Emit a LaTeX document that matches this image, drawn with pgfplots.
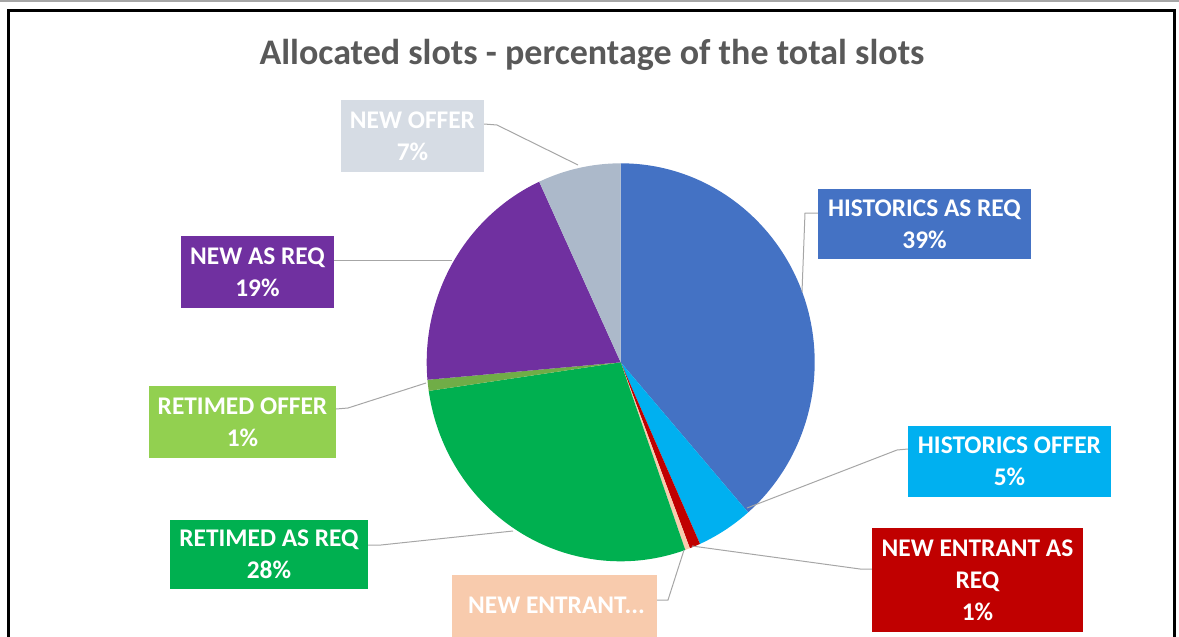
\documentclass[border=0pt]{standalone}
\usepackage{pgfplots}
\pgfplotsset{compat=1.18}
\usepackage{fontspec}
\setmainfont{Carlito}
\definecolor{cHR}{HTML}{4472C4}
\definecolor{cHO}{HTML}{00B0F0}
\definecolor{cNE}{HTML}{C00000}
\definecolor{cNO}{HTML}{F8CBAD}
\definecolor{cRR}{HTML}{00B050}
\definecolor{cRO}{HTML}{70AD47}
\definecolor{cROb}{HTML}{92D050}
\definecolor{cNR}{HTML}{7030A0}
\definecolor{cNF}{HTML}{ACB9CA}
\definecolor{cNFb}{HTML}{D6DCE4}
\definecolor{tgray}{HTML}{595959}
\definecolor{lgray}{HTML}{A6A6A6}
% slice: #1 cumulative start (%), #2 value (%), #3 colour
\newcommand\slice[3]{%
  \fill[#3] (axis cs:620.7,362.3) -- ++({90-3.6*(#1)}:97pt and 99.5pt)
    arc[start angle={90-3.6*(#1)}, end angle={90-3.6*(#1+#2)}, x radius=97pt, y radius=99.5pt] -- cycle;}
\newcommand\lab[6]{% x1,y1,x2,y2,colour,text
  \fill[#5] (axis cs:#1,#2) rectangle (axis cs:#3,#4);
  \node[text=white, font=\fontsize{12.7}{16}\selectfont\bfseries, align=center]
    at (axis cs:{(#1+#3)/2},{(#2+#4)/2}) {#6};}
\begin{document}
\begin{tikzpicture}
\useasboundingbox (0,0) rectangle (589.5pt,318.5pt);
\begin{axis}[scale only axis, width=589.5pt, height=318.5pt,
  xmin=0, xmax=1179, ymin=0, ymax=637, y dir=reverse,
  hide axis, clip=false]
\addplot[draw=none] coordinates {(0,0) (1179,637)};
% frame
\draw[lgray, line width=0.6pt] (axis cs:0,1) -- (axis cs:1179,1);
\draw[black, line width=1.5pt] (axis cs:8,645) -- (axis cs:8,10.5) -- (axis cs:1174,10.5) -- (axis cs:1174,645);
% title
\node[text=tgray, font=\fontsize{18}{21}\selectfont\bfseries] at (axis cs:592,55) {Allocated slots - percentage of the total slots};
% slices (percent of total, clockwise from 12 o'clock)
\slice{0}{38.6}{cHR}
\slice{38.6}{4.7}{cHO}
\slice{43.3}{0.9}{cNE}
\slice{44.2}{0.4}{cNO}
\slice{44.6}{28.1}{cRR}
\slice{72.7}{0.9}{cRO}
\slice{73.6}{19.5}{cNR}
\slice{93.1}{6.9}{cNF}
% leader lines
\draw[lgray, line width=0.5pt] (axis cs:484,124) -- (axis cs:497,125) -- (axis cs:578,165);
\draw[lgray, line width=0.5pt] (axis cs:334,260) -- (axis cs:452,260);
\draw[lgray, line width=0.5pt] (axis cs:818,213) -- (axis cs:805,213) -- (axis cs:802,292);
\draw[lgray, line width=0.5pt] (axis cs:908,449) -- (axis cs:897,450) -- (axis cs:747,508);
\draw[lgray, line width=0.5pt] (axis cs:872,569) -- (axis cs:860,569) -- (axis cs:692,546);
\draw[lgray, line width=0.5pt] (axis cs:657,600) -- (axis cs:668,600) -- (axis cs:684,550);
\draw[lgray, line width=0.5pt] (axis cs:368,545) -- (axis cs:381,545) -- (axis cs:513,531);
\draw[lgray, line width=0.5pt] (axis cs:336,409) -- (axis cs:348,408) -- (axis cs:426,383);
% labels
\lab{341}{100}{484}{172}{cNFb}{NEW OFFER\\7\%}
\lab{181}{236}{334}{308}{cNR}{NEW AS REQ\\19\%}
\lab{818}{189}{1031}{259}{cHR}{HISTORICS AS REQ\\39\%}
\lab{908}{426}{1111}{497}{cHO}{HISTORICS OFFER\\5\%}
\lab{872}{528}{1083}{632}{cNE}{NEW ENTRANT AS\\REQ\\1\%}
\lab{170}{520}{368}{589}{cRR}{RETIMED AS REQ\\28\%}
\lab{149}{386}{336}{458}{cROb}{RETIMED OFFER\\1\%}
\fill[cNO] (axis cs:452,575) rectangle (axis cs:657,645);
\node[text=white, font=\fontsize{12.7}{16}\selectfont\bfseries, anchor=east] at (axis cs:652,605) {NEW ENTRANT...};
\end{axis}
\end{tikzpicture}
\end{document}
